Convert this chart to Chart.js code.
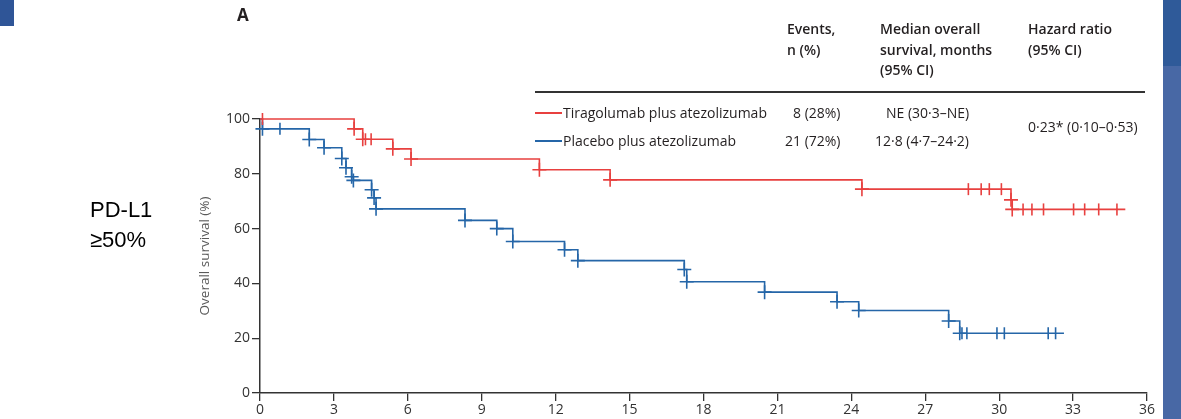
<!DOCTYPE html>
<html>
<head>
<meta charset="utf-8">
<script src="https://cdn.jsdelivr.net/npm/chart.js@4.4.1/dist/chart.umd.min.js"></script>
<style>
body { margin: 0; background: #fff; }
#wrap { position: relative; width: 1181px; height: 419px; overflow: hidden; font-family: "Open Sans", sans-serif; color: #231f20; }
#chart { position: absolute; left: 0; top: 0; }
.t { position: absolute; white-space: nowrap; font-size: 14px; line-height: 20.5px; }
.h { font-weight: 600; }
.key { position: absolute; height: 2px; width: 27px; left: 535px; }
</style>
</head>
<body>
<div id="wrap">
  <canvas id="chart" width="1181" height="419"></canvas>

  <div style="position:absolute;left:0;top:0;width:14px;height:26px;background:#2f5597"></div>
  <div style="position:absolute;left:1163px;top:0;width:18px;height:66px;background:#2f5a99"></div>
  <div style="position:absolute;left:1163px;top:66px;width:18px;height:353px;background:#4868a5"></div>

  <div class="t" style="left:237px;top:5px;font-weight:700;font-size:17px;line-height:20px">A</div>
  <div class="t" style="left:90px;top:195px;font-family:'Liberation Sans',sans-serif;font-size:22px;line-height:30px;color:#000">PD-L1<br>≥50%</div>

  <div class="t h" style="left:787px;top:19px">Events,<br>n (%)</div>
  <div class="t h" style="left:880px;top:19px">Median overall<br>survival, months<br>(95% CI)</div>
  <div class="t h" style="left:1028px;top:19px">Hazard ratio<br>(95% CI)</div>
  <div style="position:absolute;left:535px;top:91px;width:610px;height:1.5px;background:#333"></div>

  <div class="key" style="top:112px;background:#e8403f"></div>
  <div class="t" style="left:563px;top:103px">Tiragolumab plus atezolizumab</div>
  <div class="t" style="left:793px;top:103px">8 (28%)</div>
  <div class="t" style="left:886px;top:103px">NE (30·3–NE)</div>
  <div class="key" style="top:139.5px;background:#2566a8"></div>
  <div class="t" style="left:563px;top:130.5px">Placebo plus atezolizumab</div>
  <div class="t" style="left:785px;top:130.5px">21 (72%)</div>
  <div class="t" style="left:875px;top:130.5px">12·8 (4·7–24·2)</div>
  <div class="t" style="left:1028px;top:117px">0·23* (0·10–0·53)</div>
</div>

<script>
const xTicks = [0, 3, 6, 9, 12, 15, 18, 21, 24, 27, 30, 33, 36];
const yTicks = [0, 20, 40, 60, 80, 100];

// Tiragolumab plus atezolizumab: step times (months) and survival (%) after each drop
const tiraTimes = [0, 3.82, 4.17, 5.39, 6.13, 11.34, 14.21, 24.43, 30.48, 30.53, 35.12];
const tiraSurv = [100, 96.4, 92.6, 89.1, 85.4, 81.5, 77.8, 74.4, 70.5, 67.0, 67.0];
const tiraCensorTimes = [0.1, 4.28, 4.51, 28.75, 29.27, 29.6, 30.09, 30.97, 31.33, 31.8, 33.02, 33.47, 34.04, 34.78];
const tiraCensorSurv = [100, 92.6, 92.6, 74.4, 74.4, 74.4, 74.4, 67.0, 67.0, 67.0, 67.0, 67.0, 67.0, 67.0];

// Placebo plus atezolizumab
const placTimes = [0, 0.1, 2.0, 2.6, 3.32, 3.49, 3.72, 3.79, 4.53, 4.63, 4.71, 8.32, 9.61, 10.26, 12.36, 12.9, 17.22, 17.32, 20.48, 23.42, 24.3, 27.95, 28.4, 32.63];
const placSurv = [100, 96.4, 92.5, 89.5, 85.6, 82.2, 78.9, 77.6, 74.2, 71.2, 67.2, 63.0, 60.0, 55.3, 52.3, 48.3, 45.1, 40.6, 36.8, 33.3, 30.1, 26.3, 21.8, 21.8];
const placCensorTimes = [0.81, 28.49, 28.69, 29.91, 30.21, 31.99, 32.29];
const placCensorSurv = [96.4, 21.8, 21.8, 21.8, 21.8, 21.8, 21.8];

const red = '#e8403f';
const blue = '#2566a8';
const axisColor = '#333';

const toPts = (xs, ys) => xs.map((x, i) => ({ x: x, y: ys[i] }));

const curve = (times, surv, color) => ({
    data: toPts(times, surv),
    stepped: true,
    borderColor: color,
    borderWidth: 1.6,
    pointRadius: 0,
    fill: false,
    clip: false
});

const crosses = (times, surv, color) => ({
    data: toPts(times.slice(1, -1), surv.slice(1, -1)),
    showLine: false,
    pointStyle: 'cross',
    pointRadius: 7,
    pointBorderWidth: 1.6,
    borderColor: color,
    clip: false
});

const censors = (times, surv, color) => ({
    data: toPts(times, surv),
    showLine: false,
    pointStyle: 'line',
    rotation: 90,
    pointRadius: 6,
    pointBorderWidth: 1.6,
    borderColor: color,
    clip: false
});

const tickFont = { family: 'Open Sans', size: 14 };

var ctx = document.getElementById('chart').getContext('2d');
var chart = new Chart(ctx, {
    type: 'line',
    data: {
        datasets: [
            crosses(tiraTimes, tiraSurv, red),
            censors(tiraCensorTimes, tiraCensorSurv, red),
            curve(tiraTimes, tiraSurv, red),
            crosses(placTimes, placSurv, blue),
            censors(placCensorTimes, placCensorSurv, blue),
            curve(placTimes, placSurv, blue)
        ]
    },
    options: {
        responsive: false,
        animation: false,
        devicePixelRatio: 1,
        layout: { padding: { top: 119, right: 34, left: 0, bottom: 0 } },
        plugins: { legend: { display: false }, tooltip: { enabled: false } },
        scales: {
            x: {
                type: 'linear',
                min: 0,
                max: 36,
                afterBuildTicks: s => { s.ticks = xTicks.map(v => ({ value: v })); },
                afterFit: s => { s.height = 26; },
                grid: { display: true, drawOnChartArea: false, drawTicks: true, tickLength: 8, color: axisColor, lineWidth: 1.3 },
                border: { display: true, color: axisColor, width: 1.5 },
                ticks: { color: '#333', font: tickFont, padding: 1, maxRotation: 0, autoSkip: false }
            },
            y: {
                type: 'linear',
                min: 0,
                max: 100,
                afterBuildTicks: s => { s.ticks = yTicks.map(v => ({ value: v })); },
                afterFit: s => { s.width = 260; },
                grid: { display: true, drawOnChartArea: false, drawTicks: true, tickLength: 8, color: axisColor, lineWidth: 1.3 },
                border: { display: true, color: axisColor, width: 1.5 },
                ticks: { color: '#333', font: tickFont, padding: 2 },
                title: {
                    display: true,
                    text: 'Overall survival (%)',
                    color: '#5a5a5a',
                    font: { family: 'Open Sans', size: 13.5 },
                    padding: { top: 197, bottom: 0 }
                }
            }
        }
    }
});
</script>
</body>
</html>
